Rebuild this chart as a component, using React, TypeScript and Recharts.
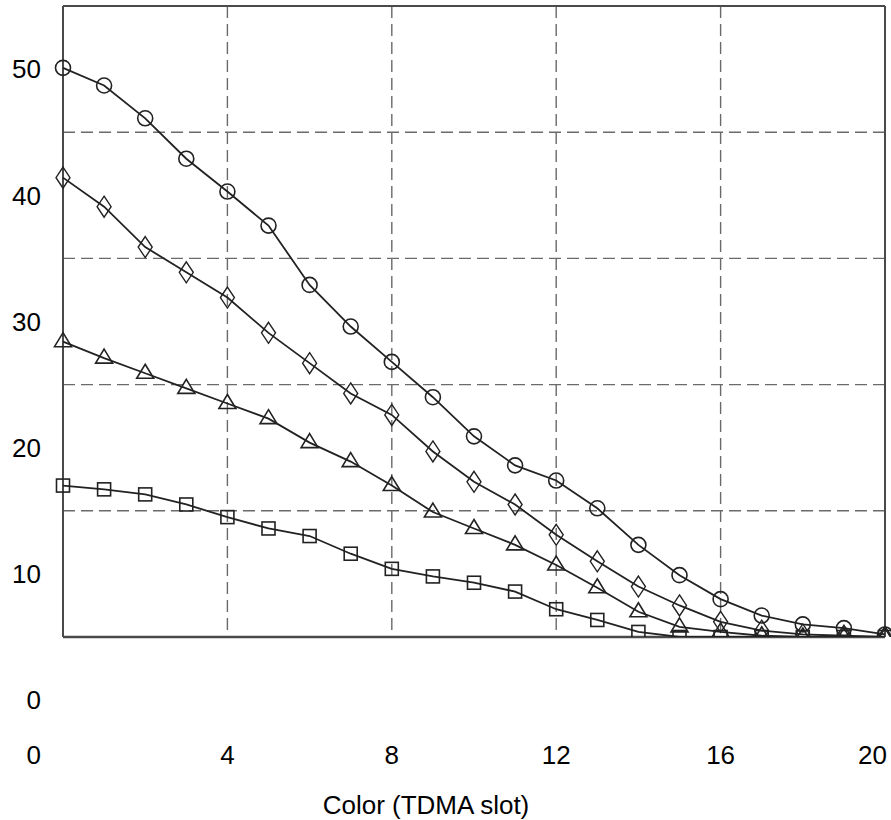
import { LineChart, Line, XAxis, YAxis, CartesianGrid, ReferenceLine } from "recharts";

// TDMA slot (x) values
const slots = [0, 1, 2, 3, 4, 5, 6, 7, 8, 9, 10, 11, 12, 13, 14, 15, 16, 17, 18, 19, 20];

// series, one per marker shape
const circleVals = [50.1, 48.7, 46.1, 42.9, 40.3, 37.6, 32.9, 29.6, 26.8, 24.0, 20.9, 18.6, 17.4, 15.2, 12.3, 9.9, 8.0, 6.7, 6.0, 5.7, 5.2];
const diamondVals = [41.4, 39.1, 35.9, 33.9, 31.9, 29.1, 26.7, 24.3, 22.6, 19.7, 17.3, 15.5, 13.1, 11.0, 9.0, 7.5, 6.2, 5.5, 5.2, 5.1, 5.0];
const triangleVals = [28.4, 27.1, 25.9, 24.7, 23.5, 22.3, 20.4, 18.9, 17.0, 14.9, 13.6, 12.3, 10.7, 8.9, 7.0, 5.8, 5.4, 5.1, 5.0, 5.0, 5.0];
const squareVals = [17.0, 16.7, 16.3, 15.5, 14.5, 13.6, 13.0, 11.6, 10.4, 9.8, 9.3, 8.6, 7.2, 6.35, 5.4, 5.0, 5.0, 5.0, 5.0, 5.0, 5.0];

const xTicks = [0, 4, 8, 12, 16, 20];
const yTicks = [0, 10, 20, 30, 40, 50];
const yGridLines = [15, 25, 35, 45];
const yDomain = [5, 55];
const xDomain = [0, 20];

const data = slots.map((s, i) => ({
  slot: s,
  circle: circleVals[i],
  diamond: diamondVals[i],
  triangle: triangleVals[i],
  square: squareVals[i],
}));

const INK = "#222";
const GRID = "#6a6a6a";
const FONT = "'Liberation Sans', Arial, Helvetica, sans-serif";

function CircleDot(props: any) {
  const { cx, cy, index } = props;
  return <circle key={`c${index}`} cx={cx} cy={cy} r={7.5} fill="none" stroke={INK} strokeWidth={1.6} />;
}

function DiamondDot(props: any) {
  const { cx, cy, index } = props;
  const pts = `${cx},${cy - 10.5} ${cx + 7},${cy} ${cx},${cy + 10.5} ${cx - 7},${cy}`;
  return <polygon key={`d${index}`} points={pts} fill="none" stroke={INK} strokeWidth={1.4} />;
}

function TriangleDot(props: any) {
  const { cx, cy, index } = props;
  const pts = `${cx},${cy - 9} ${cx + 8.5},${cy + 5} ${cx - 8.5},${cy + 5}`;
  return <polygon key={`t${index}`} points={pts} fill="none" stroke={INK} strokeWidth={1.6} />;
}

function SquareDot(props: any) {
  const { cx, cy, index } = props;
  return <rect key={`s${index}`} x={cx - 6.5} y={cy - 6.5} width={13} height={13} fill="none" stroke={INK} strokeWidth={1.6} />;
}

function XTick(props: any) {
  const { x, y, payload, index } = props;
  // first and last labels sit left of their grid line in the original
  let anchor = "middle";
  let dx = 0;
  if (index === 0) {
    anchor = "end";
    dx = -22;
  } else if (index === xTicks.length - 1) {
    anchor = "end";
    dx = 2;
  }
  return (
    <text x={x + dx} y={y} dy="0.71em" textAnchor={anchor} fontSize={26} fill="#000" fontFamily={FONT}>
      {payload.value}
    </text>
  );
}

export default function App() {
  return (
    <div style={{ position: "absolute", left: 0, top: 0, background: "#fff" }}>
      <LineChart
        width={891}
        height={820}
        data={data}
        margin={{ top: 6, right: 6, bottom: 0, left: 0 }}
        style={{ fontFamily: FONT }}
      >
        <CartesianGrid horizontal={false} stroke={GRID} strokeWidth={1.4} strokeDasharray="12 6" />
        {yGridLines.map((v) => (
          <ReferenceLine key={`g${v}`} y={v} stroke={GRID} strokeWidth={1.4} strokeDasharray="12 6" />
        ))}
        <XAxis
          dataKey="slot"
          type="number"
          domain={xDomain}
          ticks={xTicks}
          interval={0}
          height={183}
          tickSize={0}
          tickMargin={109}
          axisLine={false}
          tickLine={false}
          tick={(p: any) => <XTick {...p} />}
          label={{ value: "Color (TDMA slot)", position: "insideBottom", offset: 6, dx: -48, fontSize: 26, fill: "#000" }}
        />
        <YAxis
          type="number"
          domain={yDomain}
          allowDataOverflow
          ticks={yTicks}
          interval={0}
          width={63}
          tickSize={0}
          tickMargin={22}
          axisLine={false}
          tickLine={false}
          tick={{ fontSize: 26, fill: "#000" }}
        />
        <ReferenceLine x={0} stroke="#4a4a4a" strokeWidth={2} />
        <ReferenceLine x={20} stroke="#4a4a4a" strokeWidth={2} />
        <ReferenceLine y={5} stroke="#4a4a4a" strokeWidth={2.5} />
        <ReferenceLine y={55} stroke="#4a4a4a" strokeWidth={2} />
        <Line dataKey="square" type="linear" stroke={INK} strokeWidth={1.8} dot={SquareDot} isAnimationActive={false} />
        <Line dataKey="triangle" type="linear" stroke={INK} strokeWidth={1.8} dot={TriangleDot} isAnimationActive={false} />
        <Line dataKey="diamond" type="linear" stroke={INK} strokeWidth={1.8} dot={DiamondDot} isAnimationActive={false} />
        <Line dataKey="circle" type="linear" stroke={INK} strokeWidth={1.8} dot={CircleDot} isAnimationActive={false} />
      </LineChart>
    </div>
  );
}
